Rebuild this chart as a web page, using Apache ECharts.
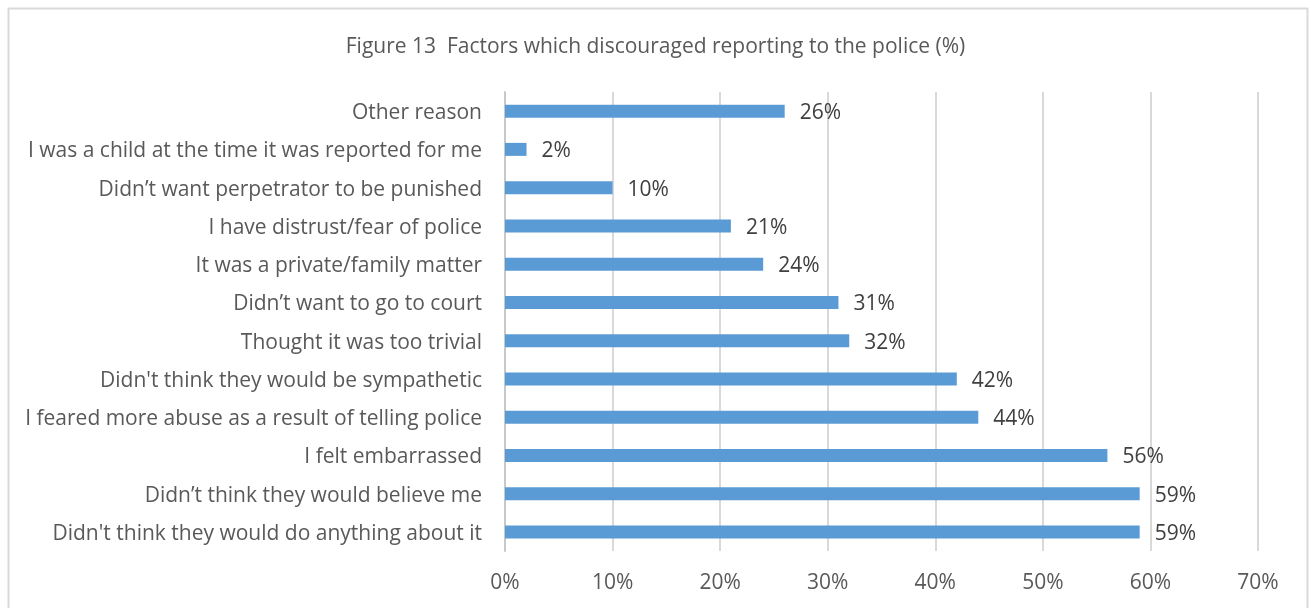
<!DOCTYPE html>
<html>
<head>
<meta charset="utf-8">
<script src="https://cdn.jsdelivr.net/npm/echarts@6/dist/echarts.min.js"></script>
<style>
  html, body { margin: 0; padding: 0; background: #ffffff; }
  #chart { width: 1311px; height: 608px; }
</style>
</head>
<body>
<div id="chart"></div>
<script>
// Reasons listed bottom-to-top (ECharts category axis starts at the bottom)
const categories = [
  "Didn't think they would do anything about it",
  "Didn\u2019t think they would believe me",
  "I felt embarrassed",
  "I feared more abuse as a result of telling police",
  "Didn't think they would be sympathetic",
  "Thought it was too trivial",
  "Didn\u2019t want to go to court",
  "It was a private/family matter",
  "I have distrust/fear of police",
  "Didn\u2019t want perpetrator to be punished",
  "I was a child at the time it was reported for me",
  "Other reason"
];
const percentages = [59, 59, 56, 44, 42, 32, 31, 24, 21, 10, 2, 26];
const titleText = "Figure 13  Factors which discouraged reporting to the police (%)";

const FONT = "'Open Sans', 'Noto Sans', sans-serif";
const chart = echarts.init(document.getElementById('chart'), null, { renderer: 'canvas' });

chart.setOption({
  backgroundColor: '#ffffff',
  animation: false,
  title: {
    text: titleText,
    left: 'center',
    top: 32,
    textStyle: { fontFamily: FONT, fontSize: 21, fontWeight: 'normal', color: '#595959' }
  },
  graphic: [{
    type: 'rect',
    shape: { x: 8.5, y: 8.5, width: 1299, height: 620 },
    style: { fill: 'none', stroke: '#d9d9d9', lineWidth: 2 },
    silent: true,
    z: -1
  }],
  grid: { left: 505, right: 1311 - 1258, top: 92, bottom: 608 - 551, containLabel: false },
  xAxis: {
    type: 'value',
    min: 0,
    max: 70,
    interval: 10,
    axisLine: { show: false },
    axisTick: { show: false },
    splitLine: { show: true, lineStyle: { color: '#d9d9d9', width: 2 } },
    axisLabel: {
      formatter: v => v + '%',
      fontFamily: FONT, fontSize: 21, color: '#595959', margin: 22
    }
  },
  yAxis: {
    type: 'category',
    data: categories,
    axisLine: { show: true, lineStyle: { color: '#c8c8c8', width: 2 } },
    axisTick: { show: false },
    splitLine: { show: false },
    axisLabel: {
      margin: 23,
      formatter: v => '{l|' + v + '}',
      rich: {
        l: { fontFamily: FONT, fontSize: 21, color: '#595959', padding: [4, 0, 0, 0] }
      }
    }
  },
  series: [{
    type: 'bar',
    data: percentages,
    barWidth: 13,
    itemStyle: { color: '#5b9bd5' },
    label: {
      show: true,
      position: 'right',
      distance: 15,
      offset: [0, 2],
      formatter: p => p.value + '%',
      fontFamily: FONT, fontSize: 21, color: '#404040'
    }
  }]
});
</script>
</body>
</html>
